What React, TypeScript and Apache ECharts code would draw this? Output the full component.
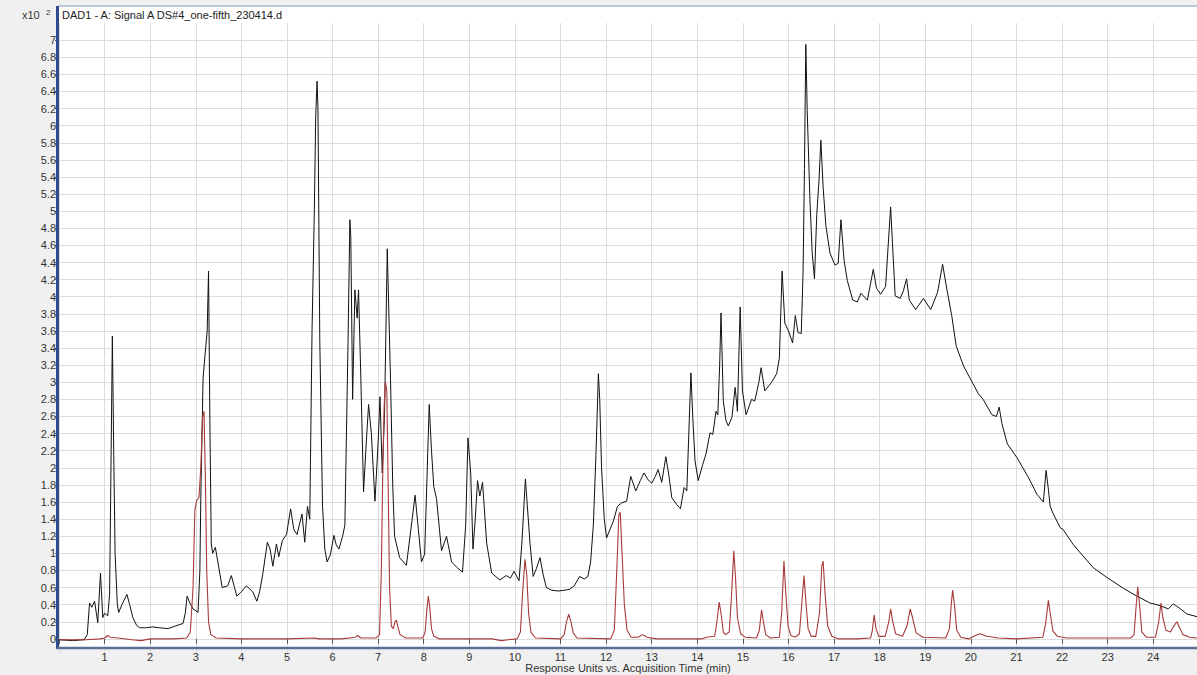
import React, { useEffect, useRef } from "react";
import * as echarts from "echarts";

// Acquisition time (min) vs response (x10^2) — black trace: DAD1 - A signal
const signalA: [number, number][] = [
  [0, -0.01], [0.3, -0.02], [0.55, -0.01], [0.62, 0.05], [0.67, 0.42], [0.72, 0.37], [0.78, 0.44], [0.85, 0.19],
  [0.91, 0.77], [0.96, 0.25], [1.0, 0.3], [1.07, 0.27], [1.11, 0.52], [1.15, 2.5], [1.17, 3.54], [1.2, 2.2],
  [1.23, 1.0], [1.28, 0.4], [1.31, 0.31], [1.38, 0.4], [1.49, 0.52], [1.55, 0.4], [1.62, 0.25], [1.7, 0.16],
  [1.77, 0.13], [1.9, 0.13], [2.06, 0.14], [2.2, 0.13], [2.39, 0.12], [2.55, 0.15], [2.72, 0.18], [2.77, 0.3],
  [2.81, 0.5], [2.87, 0.42], [2.94, 0.35], [3.05, 0.31], [3.09, 0.8], [3.11, 1.65], [3.16, 3.05], [3.2, 3.3],
  [3.25, 3.6], [3.28, 4.3], [3.31, 2.5], [3.34, 1.11], [3.37, 1.0], [3.43, 1.07], [3.5, 0.85], [3.58, 0.6],
  [3.7, 0.62], [3.78, 0.74], [3.85, 0.6], [3.9, 0.5], [4.0, 0.55], [4.11, 0.62], [4.25, 0.55], [4.34, 0.44],
  [4.4, 0.55], [4.47, 0.76], [4.57, 1.13], [4.63, 1.05], [4.69, 0.85], [4.77, 1.11], [4.82, 0.96], [4.9, 1.15],
  [4.99, 1.22], [5.08, 1.52], [5.15, 1.28], [5.22, 1.22], [5.33, 1.46], [5.39, 1.13], [5.45, 1.55], [5.5, 1.4],
  [5.55, 3.6], [5.6, 5.0], [5.63, 6.1], [5.66, 6.52], [5.68, 6.21], [5.72, 3.49], [5.78, 1.55], [5.83, 1.05],
  [5.88, 0.9], [5.95, 0.98], [6.03, 1.21], [6.08, 1.1], [6.14, 1.05], [6.22, 1.2], [6.27, 1.33], [6.34, 3.49],
  [6.38, 4.9], [6.4, 4.7], [6.44, 2.8], [6.49, 4.08], [6.54, 3.75], [6.57, 4.08], [6.62, 3.06], [6.68, 1.72],
  [6.74, 2.3], [6.79, 2.74], [6.85, 2.41], [6.93, 1.61], [7.0, 2.3], [7.04, 2.83], [7.09, 1.94], [7.14, 2.63],
  [7.2, 4.56], [7.27, 3.06], [7.32, 1.8], [7.36, 1.2], [7.47, 0.95], [7.62, 0.86], [7.73, 1.33], [7.81, 1.68],
  [7.88, 1.29], [7.95, 0.9], [8.02, 0.99], [8.12, 2.74], [8.17, 2.2], [8.22, 1.78], [8.28, 1.64], [8.39, 1.03],
  [8.5, 1.2], [8.61, 0.9], [8.72, 0.84], [8.85, 0.78], [8.92, 1.33], [8.97, 2.35], [9.03, 1.94], [9.08, 1.05],
  [9.13, 1.4], [9.18, 1.85], [9.23, 1.67], [9.29, 1.83], [9.38, 1.12], [9.49, 0.77], [9.6, 0.72], [9.67, 0.69],
  [9.75, 0.72], [9.81, 0.74], [9.9, 0.71], [9.98, 0.79], [10.09, 0.68], [10.15, 1.1], [10.23, 1.87], [10.33, 1.12],
  [10.4, 0.73], [10.47, 0.82], [10.55, 0.95], [10.62, 0.75], [10.69, 0.6], [10.8, 0.57], [10.95, 0.56], [11.1, 0.57],
  [11.2, 0.58], [11.3, 0.62], [11.42, 0.73], [11.52, 0.7], [11.6, 0.73], [11.66, 0.9], [11.72, 1.33], [11.78, 2.2],
  [11.83, 3.1], [11.86, 2.8], [11.9, 2.0], [11.96, 1.4], [12.01, 1.18], [12.16, 1.38], [12.25, 1.55], [12.34, 1.59],
  [12.45, 1.61], [12.54, 1.9], [12.65, 1.73], [12.75, 1.85], [12.83, 1.94], [12.92, 1.86], [13.0, 1.82], [13.08, 1.9],
  [13.14, 1.98], [13.22, 1.83], [13.31, 2.13], [13.38, 1.9], [13.44, 1.65], [13.55, 1.57], [13.63, 1.52], [13.71, 1.77],
  [13.77, 1.73], [13.82, 2.5], [13.86, 3.11], [13.9, 2.6], [13.95, 2.08], [14.02, 1.85], [14.12, 2.04], [14.19, 2.16],
  [14.28, 2.41], [14.34, 2.39], [14.41, 2.66], [14.45, 2.62], [14.49, 3.2], [14.52, 3.81], [14.57, 2.78], [14.63, 2.55],
  [14.68, 2.49], [14.76, 2.59], [14.83, 2.94], [14.88, 2.66], [14.94, 3.88], [14.99, 2.9], [15.07, 2.62], [15.19, 2.8],
  [15.26, 2.78], [15.35, 3.0], [15.4, 3.17], [15.48, 2.9], [15.63, 3.0], [15.74, 3.1], [15.8, 3.28], [15.86, 4.3],
  [15.92, 3.69], [16.0, 3.6], [16.09, 3.46], [16.15, 3.78], [16.21, 3.58], [16.28, 3.57], [16.32, 4.28], [16.35, 5.5],
  [16.38, 6.95], [16.41, 6.19], [16.47, 5.14], [16.52, 4.51], [16.57, 4.21], [16.62, 4.96], [16.67, 5.37], [16.71, 5.83],
  [16.76, 5.28], [16.82, 4.83], [16.91, 4.51], [17.02, 4.37], [17.09, 4.39], [17.15, 4.9], [17.22, 4.42], [17.29, 4.19],
  [17.41, 3.96], [17.51, 3.94], [17.59, 4.04], [17.73, 3.96], [17.86, 4.32], [17.93, 4.1], [18.02, 4.03], [18.13, 4.12],
  [18.24, 5.05], [18.34, 4.01], [18.45, 3.98], [18.52, 4.07], [18.59, 4.21], [18.65, 3.96], [18.79, 3.85], [18.96, 3.98],
  [19.12, 3.85], [19.27, 4.05], [19.38, 4.38], [19.47, 4.1], [19.58, 3.78], [19.68, 3.42], [19.84, 3.19], [19.98, 3.05],
  [20.16, 2.87], [20.27, 2.8], [20.46, 2.62], [20.56, 2.6], [20.62, 2.71], [20.68, 2.52], [20.8, 2.28], [21.01, 2.12],
  [21.26, 1.89], [21.45, 1.69], [21.59, 1.6], [21.65, 1.97], [21.7, 1.75], [21.74, 1.55], [21.8, 1.47], [21.96, 1.3],
  [22.02, 1.28], [22.25, 1.1], [22.54, 0.92], [22.69, 0.83], [22.98, 0.72], [23.35, 0.59], [23.64, 0.5], [23.93, 0.42],
  [24.15, 0.39], [24.33, 0.35], [24.44, 0.41], [24.6, 0.35], [24.74, 0.29], [24.96, 0.26],
];

// Red trace
const signalB: [number, number][] = [
  [0, -0.01], [0.6, -0.01], [0.9, 0.0], [1.0, 0.01], [1.07, 0.04], [1.12, 0.02], [1.3, 0.01], [1.6, -0.01],
  [1.8, -0.02], [2.0, 0.0], [2.5, 0.0], [2.8, 0.01], [2.88, 0.08], [2.94, 0.6], [2.98, 1.5], [3.02, 1.62],
  [3.07, 1.65], [3.11, 2.0], [3.15, 2.6], [3.18, 2.66], [3.21, 1.9], [3.24, 0.8], [3.28, 0.2], [3.33, 0.05],
  [3.45, 0.01], [4.0, 0.0], [5.0, 0.0], [5.6, 0.01], [5.7, 0.0], [6.2, 0.0], [6.5, 0.02], [6.55, 0.04],
  [6.62, 0.01], [6.95, 0.01], [7.03, 0.05], [7.07, 0.8], [7.1, 1.9], [7.13, 2.7], [7.16, 3.0], [7.19, 2.9],
  [7.22, 1.8], [7.25, 0.6], [7.29, 0.15], [7.33, 0.12], [7.37, 0.2], [7.4, 0.22], [7.43, 0.15], [7.48, 0.05],
  [7.6, 0.01], [7.98, 0.01], [8.03, 0.08], [8.07, 0.35], [8.1, 0.5], [8.13, 0.38], [8.17, 0.12], [8.22, 0.03],
  [8.35, 0.0], [9.5, 0.0], [9.7, -0.02], [9.85, -0.01], [10.05, 0.0], [10.12, 0.08], [10.17, 0.55], [10.22, 0.93],
  [10.26, 0.75], [10.3, 0.3], [10.35, 0.08], [10.45, 0.01], [11.0, 0.0], [11.08, 0.05], [11.13, 0.2], [11.18, 0.29],
  [11.23, 0.2], [11.28, 0.07], [11.36, 0.01], [12.1, 0.0], [12.18, 0.1], [12.23, 0.75], [12.28, 1.45], [12.31, 1.48],
  [12.35, 1.0], [12.4, 0.4], [12.46, 0.1], [12.55, 0.02], [12.7, 0.02], [12.8, 0.05], [12.9, 0.02], [13.1, 0.0],
  [14.1, 0.0], [14.2, 0.02], [14.38, 0.03], [14.43, 0.2], [14.48, 0.43], [14.52, 0.3], [14.57, 0.08], [14.62, 0.05],
  [14.7, 0.08], [14.75, 0.5], [14.8, 1.03], [14.84, 0.7], [14.88, 0.25], [14.95, 0.06], [15.05, 0.02], [15.3, 0.01],
  [15.36, 0.1], [15.41, 0.34], [15.45, 0.2], [15.5, 0.05], [15.6, 0.01], [15.8, 0.02], [15.85, 0.3], [15.9, 0.91],
  [15.94, 0.55], [15.99, 0.15], [16.05, 0.04], [16.15, 0.02], [16.24, 0.06], [16.29, 0.4], [16.34, 0.74], [16.38, 0.45],
  [16.43, 0.12], [16.5, 0.03], [16.6, 0.03], [16.68, 0.3], [16.73, 0.85], [16.76, 0.91], [16.8, 0.55], [16.86, 0.15],
  [16.95, 0.03], [17.1, 0.0], [17.5, 0.0], [17.8, 0.01], [17.84, 0.1], [17.88, 0.28], [17.92, 0.12], [17.98, 0.03],
  [18.12, 0.03], [18.2, 0.2], [18.24, 0.35], [18.28, 0.22], [18.35, 0.06], [18.5, 0.03], [18.6, 0.15], [18.67, 0.35],
  [18.72, 0.25], [18.8, 0.07], [18.95, 0.02], [19.45, 0.01], [19.53, 0.12], [19.57, 0.4], [19.6, 0.57], [19.64, 0.4],
  [19.69, 0.1], [19.78, 0.02], [19.95, 0.0], [20.1, 0.04], [20.2, 0.06], [20.35, 0.03], [20.6, 0.01], [21.0, 0.0],
  [21.58, 0.02], [21.64, 0.18], [21.7, 0.45], [21.74, 0.3], [21.8, 0.09], [21.9, 0.03], [22.1, 0.01], [23.5, 0.01],
  [23.58, 0.05], [23.62, 0.35], [23.66, 0.61], [23.7, 0.4], [23.75, 0.08], [23.85, 0.02], [24.05, 0.02], [24.12, 0.2],
  [24.17, 0.42], [24.21, 0.25], [24.28, 0.1], [24.38, 0.08], [24.45, 0.15], [24.52, 0.2], [24.57, 0.14], [24.65, 0.05],
  [24.8, 0.02], [24.96, 0.01],
];

const titleText = "DAD1 - A: Signal A DS#4_one-fifth_230414.d";
const xAxisTitle = "Response Units vs. Acquisition Time (min)";
const yScaleLabel = "x10";
const yScaleExp = "2";

const FONT = "'Liberation Sans', Arial, sans-serif";

export default function App() {
  const ref = useRef<HTMLDivElement>(null);
  useEffect(() => {
    if (!ref.current) return;
    const chart = echarts.init(ref.current, null, { renderer: "svg" });
    chart.setOption({
      animation: false,
      backgroundColor: "#f0f0f0",
      textStyle: { fontFamily: FONT },
      grid: { left: 59, right: 0, top: 23, bottom: 19, containLabel: false },
      xAxis: {
        type: "value",
        min: 0,
        max: 24.96,
        interval: 1,
        offset: -8,
        axisLine: { show: false },
        axisTick: { show: true, length: 5, lineStyle: { color: "#555", width: 1 } },
        axisLabel: {
          margin: 3,
          fontSize: 11,
          color: "#333",
          fontFamily: FONT,
          showMaxLabel: false,
          formatter: (v: number) => (Math.abs(v - Math.round(v)) < 1e-6 && v > 0.5 ? String(Math.round(v)) : ""),
        },
        splitLine: { show: true, lineStyle: { color: "#dcdcdc", width: 1 } },
      },
      yAxis: {
        type: "value",
        min: -0.2,
        max: 7.2,
        interval: 0.2,
        axisLine: { show: false },
        axisTick: { show: true, length: 4, lineStyle: { color: "#555", width: 1 } },
        axisLabel: {
          margin: 3,
          fontSize: 11,
          color: "#333",
          fontFamily: FONT,
          showMaxLabel: false,
          formatter: (v: number) => (v < -0.01 || v > 7.01 ? "" : String(Math.round(v * 10) / 10)),
        },
        splitLine: { show: true, showMinLine: false, showMaxLine: false, lineStyle: { color: "#dcdcdc", width: 1 } },
      },
      graphic: [
        { type: "rect", z: -10, shape: { x: 58, y: 6, width: 1139, height: 642 }, style: { fill: "#ffffff" }, silent: true },
        { type: "line", z: 50, shape: { x1: 58, y1: 6, x2: 1197, y2: 6 }, style: { stroke: "#7f9cc9", lineWidth: 1 }, silent: true },
        { type: "line", z: 50, shape: { x1: 57.5, y1: 6, x2: 57.5, y2: 649 }, style: { stroke: "#2f4b8f", lineWidth: 3 }, silent: true },
        { type: "line", z: 50, shape: { x1: 57, y1: 648, x2: 1197, y2: 648 }, style: { stroke: "#5d6f98", lineWidth: 2.5 }, silent: true },
        { type: "rect", z: 60, shape: { x: 40, y: 654, width: 22, height: 8 }, style: { fill: "#f0f0f0" }, silent: true },
        {
          type: "text", z: 60, x: 22, y: 15,
          style: { text: yScaleLabel, font: `11px ${FONT}`, fill: "#333", textAlign: "left", textVerticalAlign: "middle", align: "left", verticalAlign: "middle" },
        },
        {
          type: "text", z: 60, x: 46, y: 12,
          style: { text: yScaleExp, font: `8px ${FONT}`, fill: "#333", textAlign: "left", textVerticalAlign: "middle", align: "left", verticalAlign: "middle" },
        },
        {
          type: "text", z: 60, x: 62, y: 15,
          style: { text: titleText, font: `11px ${FONT}`, fill: "#222", textAlign: "left", textVerticalAlign: "middle", align: "left", verticalAlign: "middle" },
        },
        {
          type: "text", z: 60, x: 628, y: 668,
          style: { text: xAxisTitle, font: `11px ${FONT}`, fill: "#333", textAlign: "center", textVerticalAlign: "middle", align: "center", verticalAlign: "middle" },
        },
      ],
      series: [
        {
          type: "line",
          name: "Signal A",
          data: signalA,
          showSymbol: false,
          symbol: "none",
          lineStyle: { color: "#111111", width: 1 },
          z: 3,
          clip: true,
        },
        {
          type: "line",
          name: "Signal B",
          data: signalB,
          showSymbol: false,
          symbol: "none",
          lineStyle: { color: "#a83a3a", width: 1.1 },
          z: 4,
          clip: true,
        },
      ],
    });
    return () => chart.dispose();
  }, []);
  return <div ref={ref} style={{ position: "fixed", left: 0, top: 0, width: 1197, height: 675 }} />;
}
